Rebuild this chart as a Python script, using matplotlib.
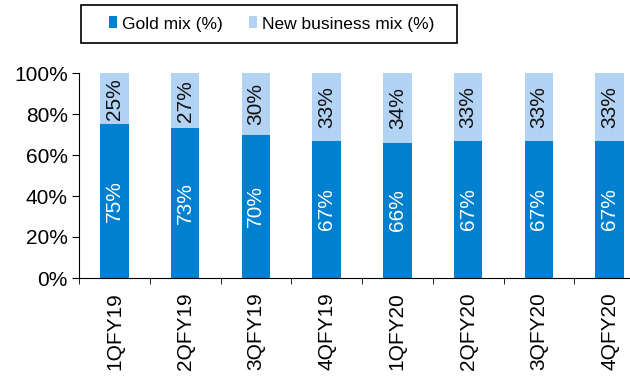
import matplotlib.pyplot as plt
from matplotlib.patches import Rectangle
from matplotlib.ticker import FixedLocator

plt.rcParams['font.family'] = ['Liberation Sans', 'DejaVu Sans']

quarters = ["1QFY19", "2QFY19", "3QFY19", "4QFY19",
            "1QFY20", "2QFY20", "3QFY20", "4QFY20"]
gold_mix = [75, 73, 70, 67, 66, 67, 67, 67]
new_biz_mix = [25, 27, 30, 33, 34, 33, 33, 33]

gold_color = '#0080CF'
new_color = '#B3D3F5'
fs = 15

W, H = 630, 376
fig = plt.figure(figsize=(W / 100, H / 100), dpi=100)
ax = fig.add_axes([79 / W, 1 - 278 / H, 566 / W, 205 / H])

x = range(len(quarters))
ax.bar(x, gold_mix, width=0.4, color=gold_color, label='Gold mix (%)')
ax.bar(x, new_biz_mix, width=0.4, bottom=gold_mix, color=new_color,
       label='New business mix (%)')

for i in x:
    ax.text(i, gold_mix[i] / 2, f"{gold_mix[i]}%", rotation=90, ha='center',
            va='center', color='white', fontsize=fs)
    ax.text(i, gold_mix[i] + new_biz_mix[i] / 2, f"{new_biz_mix[i]}%",
            rotation=90, ha='center', va='center', color='#111111', fontsize=fs)

ax.set_xlim(-0.5, len(quarters) - 0.5)
ax.set_ylim(0, 100)
ax.set_yticks(range(0, 101, 20))
ax.set_yticklabels([f"{v}%" for v in range(0, 101, 20)], fontsize=fs)
ax.set_xticks(list(x))
ax.set_xticklabels(quarters, rotation=90, fontsize=fs)
ax.tick_params(axis='x', length=0, pad=10)
ax.xaxis.set_minor_locator(FixedLocator([i + 0.5 for i in range(-1, len(quarters))]))
ax.tick_params(axis='x', which='minor', length=4, direction='out', color='black')
ax.tick_params(axis='y', length=5, direction='out', color='black', pad=3)

for side in ['top', 'right']:
    ax.spines[side].set_visible(False)

# legend with a hand-placed frame
leg = fig.legend(loc='center left', bbox_to_anchor=(109 / W, 1 - 24 / H), ncol=2,
                 fontsize=12.5, frameon=False, borderpad=0, borderaxespad=0,
                 handlelength=0.46, handleheight=0.69, handletextpad=0.29,
                 columnspacing=1.5)
fig.patches.append(Rectangle((81 / W, 1 - 43 / H), 376 / W, 38 / H,
                             transform=fig.transFigure, fill=False,
                             edgecolor='black', linewidth=1.2))

fig.savefig('out.png', dpi=100)
